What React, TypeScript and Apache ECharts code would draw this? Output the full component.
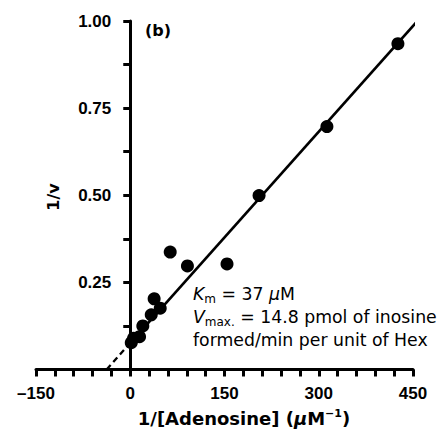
import React, { useEffect, useRef } from "react";
import * as echarts from "echarts";

const adenosineInv = [1.6, 5.3, 14.8, 20, 33.4, 38, 47.7, 63.6, 91, 154, 205, 313, 426];
const rateInv = [0.077, 0.09, 0.094, 0.125, 0.157, 0.203, 0.176, 0.337, 0.297, 0.303, 0.499, 0.697, 0.935];
const fitSolid = [[0, 0.076], [459, 1.004]];
const fitDashed = [[-37.6, 0], [0, 0.076]];
const xTicks = [-150, 0, 150, 300, 450];
const yTicks = [0, 0.25, 0.5, 0.75, 1.0];

const LIB = "'Liberation Sans', Arial, Helvetica, sans-serif";
const DJV = "'DejaVu Sans', Verdana, sans-serif";

const W = 439;
const H = 430;
const GRID = { left: 36, right: 26, top: 21, bottom: 60.5 };

export default function App() {
  const ref = useRef<HTMLDivElement>(null);
  useEffect(() => {
    if (!ref.current) return;
    const chart = echarts.init(ref.current, null, { renderer: "svg" });
    const xMin = xTicks[0];
    const xMax = xTicks[xTicks.length - 1];
    const plotW = W - GRID.left - GRID.right;
    const yAxisOffset = -((0 - xMin) / (xMax - xMin)) * plotW;
    const lineStyle = { color: "#000", width: 3 };
    const tickStyle = { color: "#000", width: 3 };
    const labelStyle = { color: "#000", fontSize: 17, fontWeight: "bold" as const, fontFamily: LIB };
    chart.setOption({
      animation: false,
      grid: { ...GRID, containLabel: false, outerBoundsMode: "none" },
      xAxis: {
        type: "value",
        min: xMin,
        max: xMax,
        interval: 150,
        axisLine: { show: true, onZero: false, lineStyle },
        axisTick: { show: true, length: 7, lineStyle: tickStyle },
        minorTick: { show: true, splitNumber: 5, length: 7, lineStyle: tickStyle },
        splitLine: { show: false },
        axisLabel: {
          ...labelStyle,
          margin: 15,
          formatter: (v: number) => (v < 0 ? "\u2013" + Math.abs(v) : String(v)),
        },
      },
      yAxis: {
        type: "value",
        min: yTicks[0],
        max: yTicks[yTicks.length - 1],
        interval: 0.25,
        offset: yAxisOffset,
        axisLine: { show: true, onZero: false, lineStyle },
        axisTick: { show: true, length: 7, lineStyle: tickStyle },
        minorTick: { show: true, splitNumber: 2, length: 7, lineStyle: tickStyle },
        splitLine: { show: false },
        axisLabel: {
          ...labelStyle,
          margin: 19,
          formatter: (v: number) => (v === 0 ? "" : v.toFixed(2)),
        },
      },
      series: [
        {
          type: "line",
          data: fitSolid,
          symbol: "none",
          clip: false,
          lineStyle: { color: "#000", width: 2.6 },
          z: 2,
        },
        {
          type: "line",
          data: fitDashed,
          symbol: "none",
          clip: false,
          lineStyle: { color: "#000", width: 2.3, type: [6, 4] },
          z: 2,
        },
        {
          type: "scatter",
          data: adenosineInv.map((x, i) => [x, rateInv[i]]),
          symbol: "circle",
          symbolSize: 13,
          itemStyle: { color: "#000", opacity: 1 },
          clip: false,
          z: 3,
        },
      ],
      graphic: [
        {
          type: "text",
          x: 145,
          y: 30,
          style: { text: "(b)", font: `bold 16px ${DJV}`, fill: "#000", verticalAlign: "middle" },
        },
        {
          type: "text",
          x: 53,
          y: 197,
          rotation: Math.PI / 2,
          style: {
            text: "1/v",
            font: `bold 16px ${DJV}`,
            fill: "#000",
            align: "center",
            verticalAlign: "middle",
          },
        },
        {
          type: "text",
          x: 244,
          y: 418,
          style: {
            text: "{t|1/[Adenosine] (}{i|\u03bc}{t|M}{sup|\u22121}{t|)}",
            align: "center",
            verticalAlign: "middle",
            fill: "#000",
            rich: {
              t: { fontWeight: "bold", fontSize: 18, fontFamily: DJV, lineHeight: 22 },
              i: { fontStyle: "italic", fontWeight: "bold", fontSize: 18, fontFamily: DJV, lineHeight: 22 },
              sup: { fontWeight: "bold", fontSize: 11, fontFamily: DJV, lineHeight: 11, padding: [0, 0, 10, 0] },
            },
          },
        },
        {
          type: "text",
          x: 193,
          y: 283,
          style: {
            text:
              "{i|K}{sub|m}{t| = 37 }{i|\u03bc}{t|M}\n{i|V}{sub|max.}{t| = 14.8 pmol of inosine}\n{t|formed/min per unit of Hex}",
            fill: "#000",
            rich: {
              t: { fontSize: 17.3, fontFamily: DJV, lineHeight: 22.7 },
              i: { fontSize: 17.3, fontStyle: "italic", fontFamily: DJV, lineHeight: 22.7 },
              sub: { fontSize: 12, fontFamily: DJV, lineHeight: 12, padding: [9, 0, 0, 0] },
            },
          },
        },
      ],
    });
    return () => chart.dispose();
  }, []);
  return <div ref={ref} style={{ width: W, height: H, position: "absolute", left: 0, top: 0 }} />;
}
